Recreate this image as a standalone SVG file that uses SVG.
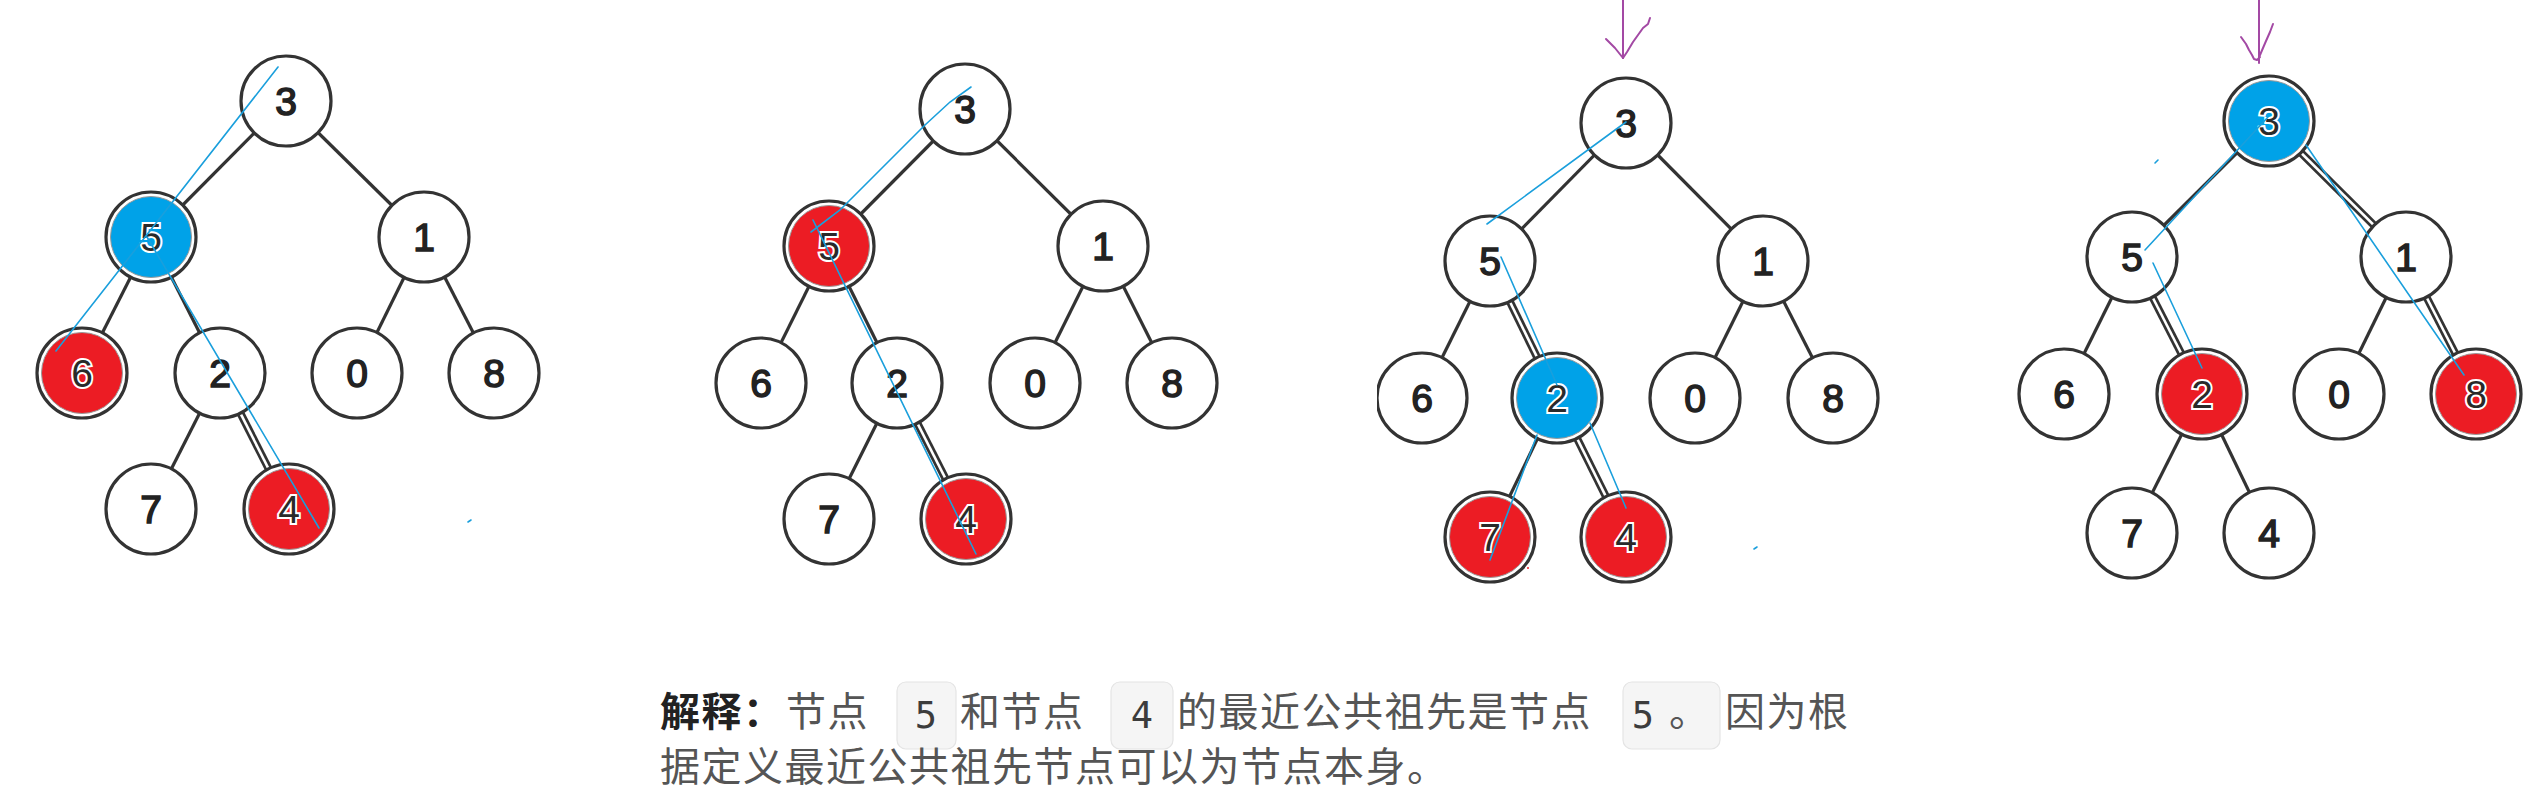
<svg xmlns="http://www.w3.org/2000/svg" width="2545" height="811" viewBox="0 0 2545 811">
<defs>
<style>
.edge{stroke:#333;stroke-width:3.2;fill:none}
.dbl{stroke:#333;stroke-width:8;fill:none}
.dbl-in{stroke:#fff;stroke-width:2.6;fill:none}
.ring{fill:#fff;stroke:#333;stroke-width:3.2}
.inner{stroke:#9a9a9a;stroke-width:1}
.red{fill:#ec1c24}
.blue{fill:#00a2e8}
.digit{font-family:"Liberation Sans",Arial,sans-serif;font-size:39px;text-anchor:middle;fill:#222;stroke:#222;stroke-width:1.5}
.hl{fill:#2a2a2a;stroke:#fff;stroke-width:4;paint-order:stroke}
.ann{stroke:#1a9fdc;stroke-width:1.6;fill:none;stroke-linecap:round}
.arr{stroke:#a349a4;stroke-width:2;fill:none;stroke-linejoin:round;stroke-linecap:round}
.cjk{font-family:"Noto Sans CJK SC","Noto Sans",sans-serif;font-size:40px;letter-spacing:1.5px;fill:#555}
.bold{font-weight:bold;fill:#222}
.code{fill:#f5f5f5;stroke:#e4e4e4;stroke-width:1.2}
.codet{font-family:"DejaVu Sans Mono","Liberation Mono",monospace;font-size:37px;fill:#3c3c3c;text-anchor:middle}
</style>
<clipPath id="clipT3n6"><rect x="1377" y="340" width="120" height="120"/></clipPath>
</defs>
<rect width="2545" height="811" fill="#fff"/>

<g id="connectors">
<!-- tree 1 -->
<line class="edge" x1="286" y1="101" x2="151" y2="237"/>
<line class="edge" x1="286" y1="101" x2="424" y2="237"/>
<line class="edge" x1="151" y1="237" x2="82" y2="373"/>
<line class="edge" x1="151" y1="237" x2="220" y2="373"/>
<line class="edge" x1="424" y1="237" x2="357" y2="373"/>
<line class="edge" x1="424" y1="237" x2="494" y2="373"/>
<line class="edge" x1="220" y1="373" x2="151" y2="509"/>
<line class="dbl" x1="220" y1="373" x2="289" y2="509"/><line class="dbl-in" x1="220" y1="373" x2="289" y2="509"/>
<!-- tree 2 -->
<line class="edge" x1="965" y1="109" x2="829" y2="246"/>
<line class="edge" x1="965" y1="109" x2="1103" y2="246"/>
<line class="edge" x1="829" y1="246" x2="761" y2="383"/>
<line class="edge" x1="829" y1="246" x2="897" y2="383"/>
<line class="edge" x1="1103" y1="246" x2="1035" y2="383"/>
<line class="edge" x1="1103" y1="246" x2="1172" y2="383"/>
<line class="edge" x1="897" y1="383" x2="829" y2="519"/>
<line class="dbl" x1="897" y1="383" x2="966" y2="519"/><line class="dbl-in" x1="897" y1="383" x2="966" y2="519"/>
<!-- tree 3 -->
<line class="edge" x1="1626" y1="123" x2="1490" y2="261"/>
<line class="edge" x1="1626" y1="123" x2="1763" y2="261"/>
<line class="edge" x1="1490" y1="261" x2="1422" y2="398"/>
<line class="dbl" x1="1490" y1="261" x2="1557" y2="398"/><line class="dbl-in" x1="1490" y1="261" x2="1557" y2="398"/>
<line class="edge" x1="1763" y1="261" x2="1695" y2="398"/>
<line class="edge" x1="1763" y1="261" x2="1833" y2="398"/>
<line class="edge" x1="1557" y1="398" x2="1490" y2="537"/>
<line class="dbl" x1="1557" y1="398" x2="1626" y2="537"/><line class="dbl-in" x1="1557" y1="398" x2="1626" y2="537"/>
<!-- tree 4 -->
<line class="edge" x1="2269" y1="121" x2="2132" y2="257"/>
<line class="dbl" x1="2269" y1="121" x2="2406" y2="257"/><line class="dbl-in" x1="2269" y1="121" x2="2406" y2="257"/>
<line class="edge" x1="2132" y1="257" x2="2064" y2="394"/>
<line class="dbl" x1="2132" y1="257" x2="2202" y2="394"/><line class="dbl-in" x1="2132" y1="257" x2="2202" y2="394"/>
<line class="edge" x1="2406" y1="257" x2="2339" y2="394"/>
<line class="dbl" x1="2406" y1="257" x2="2476" y2="394"/><line class="dbl-in" x1="2406" y1="257" x2="2476" y2="394"/>
<line class="edge" x1="2202" y1="394" x2="2132" y2="533"/>
<line class="edge" x1="2202" y1="394" x2="2269" y2="533"/>
</g>

<!-- Tree 1 nodes -->
<g id="t1-n3"><circle class="ring" cx="286" cy="101" r="45"/><text class="digit" x="286" y="115">3</text></g>
<g id="t1-n5"><circle class="ring" cx="151" cy="237" r="45"/><circle class="blue inner" cx="151" cy="237" r="40.5"/><text class="digit hl" x="151" y="251">5</text></g>
<g id="t1-n1"><circle class="ring" cx="424" cy="237" r="45"/><text class="digit" x="424" y="251">1</text></g>
<g id="t1-n6"><circle class="ring" cx="82" cy="373" r="45"/><circle class="red inner" cx="82" cy="373" r="40.5"/><text class="digit hl" x="82" y="387">6</text></g>
<g id="t1-n2"><circle class="ring" cx="220" cy="373" r="45"/><text class="digit" x="220" y="387">2</text></g>
<g id="t1-n0"><circle class="ring" cx="357" cy="373" r="45"/><text class="digit" x="357" y="387">0</text></g>
<g id="t1-n8"><circle class="ring" cx="494" cy="373" r="45"/><text class="digit" x="494" y="387">8</text></g>
<g id="t1-n7"><circle class="ring" cx="151" cy="509" r="45"/><text class="digit" x="151" y="523">7</text></g>
<g id="t1-n4"><circle class="ring" cx="289" cy="509" r="45"/><circle class="red inner" cx="289" cy="509" r="40.5"/><text class="digit hl" x="289" y="523">4</text></g>

<!-- Tree 2 nodes -->
<g id="t2-n3"><circle class="ring" cx="965" cy="109" r="45"/><text class="digit" x="965" y="123">3</text></g>
<g id="t2-n5"><circle class="ring" cx="829" cy="246" r="45"/><circle class="red inner" cx="829" cy="246" r="40.5"/><text class="digit hl" x="829" y="260">5</text></g>
<g id="t2-n1"><circle class="ring" cx="1103" cy="246" r="45"/><text class="digit" x="1103" y="260">1</text></g>
<g id="t2-n6"><circle class="ring" cx="761" cy="383" r="45"/><text class="digit" x="761" y="397">6</text></g>
<g id="t2-n2"><circle class="ring" cx="897" cy="383" r="45"/><text class="digit" x="897" y="397">2</text></g>
<g id="t2-n0"><circle class="ring" cx="1035" cy="383" r="45"/><text class="digit" x="1035" y="397">0</text></g>
<g id="t2-n8"><circle class="ring" cx="1172" cy="383" r="45"/><text class="digit" x="1172" y="397">8</text></g>
<g id="t2-n7"><circle class="ring" cx="829" cy="519" r="45"/><text class="digit" x="829" y="533">7</text></g>
<g id="t2-n4"><circle class="ring" cx="966" cy="519" r="45"/><circle class="red inner" cx="966" cy="519" r="40.5"/><text class="digit hl" x="966" y="533">4</text></g>

<!-- Tree 3 nodes -->
<g id="t3-n3"><circle class="ring" cx="1626" cy="123" r="45"/><text class="digit" x="1626" y="137">3</text></g>
<g id="t3-n5"><circle class="ring" cx="1490" cy="261" r="45"/><text class="digit" x="1490" y="275">5</text></g>
<g id="t3-n1"><circle class="ring" cx="1763" cy="261" r="45"/><text class="digit" x="1763" y="275">1</text></g>
<g id="t3-n6" clip-path="url(#clipT3n6)"><circle class="ring" cx="1422" cy="398" r="45"/><text class="digit" x="1422" y="412">6</text></g>
<g id="t3-n2"><circle class="ring" cx="1557" cy="398" r="45"/><circle class="blue inner" cx="1557" cy="398" r="40.5"/><text class="digit hl" x="1557" y="412">2</text></g>
<g id="t3-n0"><circle class="ring" cx="1695" cy="398" r="45"/><text class="digit" x="1695" y="412">0</text></g>
<g id="t3-n8"><circle class="ring" cx="1833" cy="398" r="45"/><text class="digit" x="1833" y="412">8</text></g>
<g id="t3-n7"><circle class="ring" cx="1490" cy="537" r="45"/><circle class="red inner" cx="1490" cy="537" r="40.5"/><text class="digit hl" x="1490" y="551">7</text></g>
<g id="t3-n4"><circle class="ring" cx="1626" cy="537" r="45"/><circle class="red inner" cx="1626" cy="537" r="40.5"/><text class="digit hl" x="1626" y="551">4</text></g>

<!-- Tree 4 nodes -->
<g id="t4-n3"><circle class="ring" cx="2269" cy="121" r="45"/><circle class="blue inner" cx="2269" cy="121" r="40.5"/><text class="digit hl" x="2269" y="135">3</text></g>
<g id="t4-n5"><circle class="ring" cx="2132" cy="257" r="45"/><text class="digit" x="2132" y="271">5</text></g>
<g id="t4-n1"><circle class="ring" cx="2406" cy="257" r="45"/><text class="digit" x="2406" y="271">1</text></g>
<g id="t4-n6"><circle class="ring" cx="2064" cy="394" r="45"/><text class="digit" x="2064" y="408">6</text></g>
<g id="t4-n2"><circle class="ring" cx="2202" cy="394" r="45"/><circle class="red inner" cx="2202" cy="394" r="40.5"/><text class="digit hl" x="2202" y="408">2</text></g>
<g id="t4-n0"><circle class="ring" cx="2339" cy="394" r="45"/><text class="digit" x="2339" y="408">0</text></g>
<g id="t4-n8"><circle class="ring" cx="2476" cy="394" r="45"/><circle class="red inner" cx="2476" cy="394" r="40.5"/><text class="digit hl" x="2476" y="408">8</text></g>
<g id="t4-n7"><circle class="ring" cx="2132" cy="533" r="45"/><text class="digit" x="2132" y="547">7</text></g>
<g id="t4-n4"><circle class="ring" cx="2269" cy="533" r="45"/><text class="digit" x="2269" y="547">4</text></g>

<!-- blue hand-drawn traces -->
<g id="traces">
<line class="ann" x1="278" y1="67" x2="56" y2="351"/>
<line class="ann" x1="147" y1="237" x2="319" y2="528"/>
<line class="ann" x1="468" y1="522" x2="471" y2="520"/>
<polyline class="ann" points="971,87 950,102 925,125 900,150 870,180 840,210 811,232"/>
<line class="ann" x1="813" y1="220" x2="976" y2="554"/>
<line class="ann" x1="1626" y1="122" x2="1487" y2="224"/>
<line class="ann" x1="1501" y1="257" x2="1557" y2="385"/>
<line class="ann" x1="1537" y1="435" x2="1490" y2="560"/>
<line class="ann" x1="1590" y1="423" x2="1626" y2="508"/>
<line class="ann" x1="1754" y1="549" x2="1757" y2="547"/>
<circle cx="1528" cy="568" r="1" fill="#ec1c24"/>
<line class="ann" x1="2268" y1="117" x2="2145" y2="250"/>
<line class="ann" x1="2153" y1="263" x2="2202" y2="368"/>
<line class="ann" x1="2306" y1="145" x2="2464" y2="375"/>
<line class="ann" x1="2155" y1="163" x2="2158" y2="160"/>
</g>

<!-- purple arrows -->
<g id="arrows">
<line class="arr" x1="1623" y1="0" x2="1623" y2="58"/>
<polyline class="arr" points="1606,39 1611,44 1615,48 1619,53 1623,58"/>
<polyline class="arr" points="1650,18 1648,24 1643,28 1638,35 1633,42 1630,47 1627,52 1623,58"/>
<line class="arr" x1="2259" y1="0" x2="2259" y2="63"/>
<polyline class="arr" points="2241,37 2246,44 2249,50 2252,55 2254,59 2257,60 2260,57"/>
<polyline class="arr" points="2273,24 2270,32 2266,41 2263,48 2260,55"/>
</g>

<!-- explanation text -->
<g id="explanation">
<rect class="code" x="897" y="682" width="59" height="67" rx="9"/>
<rect class="code" x="1111" y="682" width="62" height="67" rx="9"/>
<rect class="code" x="1623" y="682" width="97" height="67" rx="9"/>
<text class="cjk bold" x="660" y="726">解释：</text>
<text class="cjk" x="786" y="726">节点</text>
<text class="codet" x="926" y="728">5</text>
<text class="cjk" x="960" y="726">和节点</text>
<text class="codet" x="1142" y="728">4</text>
<text class="cjk" x="1177" y="726">的最近公共祖先是节点</text>
<text class="codet" x="1643" y="728">5</text>
<text class="cjk" x="1669" y="726">。</text>
<text class="cjk" x="1725" y="726">因为根</text>
<text class="cjk" x="660" y="781">据定义最近公共祖先节点可以为节点本身。</text>
</g>
</svg>
